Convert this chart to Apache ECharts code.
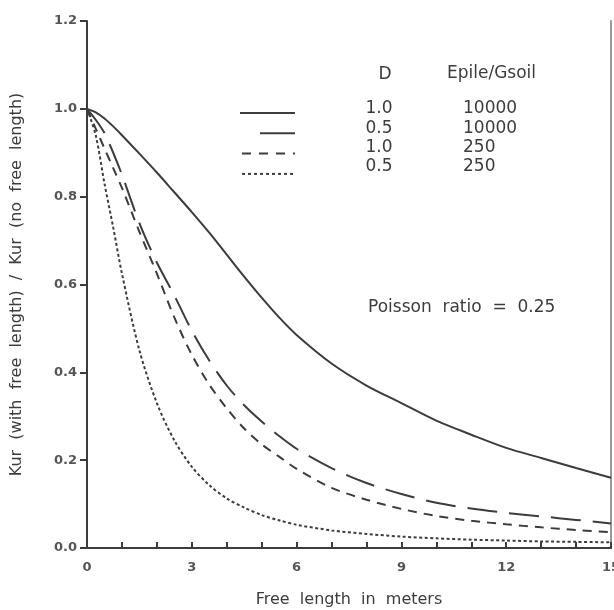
<!DOCTYPE html>
<html>
<head>
<meta charset="utf-8">
<script src="https://cdn.jsdelivr.net/npm/echarts@6/dist/echarts.min.js"></script>
<style>
  html, body { margin: 0; padding: 0; background: #fff; }
  #chart { width: 614px; height: 610px; }
</style>
</head>
<body>
<div id="chart"></div>
<script>
// free length (m)
const freeLength = [0, 0.25, 0.5, 0.75, 1, 1.5, 2, 2.5, 3, 3.5, 4, 4.5, 5, 5.5, 6, 7, 8, 9, 10, 11, 12, 13, 14, 15]

// Kur ratio, one array per curve
const d10_e10000 = [1.0, 0.992, 0.978, 0.96, 0.94, 0.898, 0.855, 0.81, 0.765, 0.718, 0.668, 0.618, 0.57, 0.525, 0.485, 0.42, 0.37, 0.33, 0.29, 0.258, 0.228, 0.205, 0.182, 0.16]
const d05_e10000 = [1.0, 0.975, 0.945, 0.9, 0.85, 0.74, 0.65, 0.575, 0.495, 0.427, 0.37, 0.325, 0.288, 0.255, 0.226, 0.182, 0.148, 0.123, 0.103, 0.09, 0.08, 0.072, 0.064, 0.056]
const d10_e250 = [1.0, 0.955, 0.91, 0.865, 0.82, 0.72, 0.625, 0.525, 0.44, 0.372, 0.318, 0.272, 0.236, 0.208, 0.18, 0.137, 0.11, 0.089, 0.073, 0.062, 0.054, 0.047, 0.041, 0.036]
const d05_e250 = [1.0, 0.94, 0.83, 0.73, 0.625, 0.45, 0.33, 0.245, 0.185, 0.143, 0.113, 0.092, 0.075, 0.063, 0.053, 0.04, 0.032, 0.026, 0.022, 0.019, 0.017, 0.015, 0.014, 0.013]

const legendRows = [
  { d: '1.0', ratio: '10000' },
  { d: '0.5', ratio: '10000' },
  { d: '1.0', ratio: '250' },
  { d: '0.5', ratio: '250' }
]

const ink = '#3c3c3c'
const font = 'DejaVu Sans'

const pairs = ys => freeLength.map((x, i) => [x, ys[i]])

const curve = (name, ys, dash) => ({
  name,
  type: 'line',
  smooth: 0.3,
  showSymbol: false,
  data: pairs(ys),
  lineStyle: { color: ink, width: 2, type: dash },
  z: 3
})

const myChart = echarts.init(document.getElementById('chart'))

// hand-drawn style legend table
const legendLines = [
  { x1: 240, x2: 295, dash: 'solid' },
  { x1: 260, x2: 295, dash: [36, 10] },
  { x1: 242, x2: 295, dash: [9, 8] },
  { x1: 242, x2: 295, dash: [3, 3] }
]
const legendGraphics = []
legendRows.forEach((row, i) => {
  const ly = 113 + i * 20.3
  const ty = 109 + i * 19.2
  const l = legendLines[i]
  legendGraphics.push({
    type: 'line',
    shape: { x1: l.x1, y1: ly, x2: l.x2, y2: ly },
    style: { stroke: ink, lineWidth: 2, lineDash: l.dash === 'solid' ? null : l.dash }
  })
  legendGraphics.push({
    type: 'text', x: 379, y: ty,
    style: { text: row.d, font: '17px ' + font, fill: ink, align: 'center', verticalAlign: 'middle' }
  })
  legendGraphics.push({
    type: 'text', x: 463, y: ty,
    style: { text: row.ratio, font: '17px ' + font, fill: ink, align: 'left', verticalAlign: 'middle' }
  })
})
legendGraphics.push({
  type: 'text', x: 385, y: 75,
  style: { text: 'D', font: '17px ' + font, fill: ink, align: 'center', verticalAlign: 'middle' }
})
legendGraphics.push({
  type: 'text', x: 447, y: 74,
  style: { text: 'Epile/Gsoil', font: '17px ' + font, fill: ink, align: 'left', verticalAlign: 'middle' }
})
legendGraphics.push({
  type: 'text', x: 368, y: 308,
  style: { text: 'Poisson  ratio  =  0.25', font: '17px ' + font, fill: ink, align: 'left', verticalAlign: 'middle' }
})

const option = {
  backgroundColor: '#fff',
  animation: false,
  grid: { left: 87, right: 3, top: 21, bottom: 62, containLabel: false, outerBoundsMode: 'none' },
  xAxis: {
    type: 'value',
    min: 0,
    max: 15,
    interval: 1,
    name: 'Free  length  in  meters',
    nameLocation: 'middle',
    nameGap: 44,
    nameTextStyle: { fontFamily: font, fontSize: 16, color: ink },
    axisLine: { onZero: false, lineStyle: { color: ink, width: 2 } },
    axisTick: { inside: true, length: 6, lineStyle: { color: ink, width: 2 } },
    axisLabel: {
      fontFamily: font, fontSize: 13, fontWeight: 'bold', color: '#555', margin: 13,
      formatter: v => (v % 3 === 0 ? String(v) : '')
    },
    splitLine: { show: false }
  },
  yAxis: [
    {
      type: 'value',
      min: 0,
      max: 1.2,
      interval: 0.2,
      name: 'Kur  (with  free  length)  /  Kur  (no  free  length)',
      nameLocation: 'middle',
      nameGap: 62,
      nameRotate: 90,
      nameTextStyle: { fontFamily: font, fontSize: 16, color: ink },
      axisLine: { show: true, lineStyle: { color: ink, width: 2 } },
      axisTick: { show: true, length: 7, lineStyle: { color: ink, width: 2 } },
      axisLabel: {
        fontFamily: font, fontSize: 13, fontWeight: 'bold', color: '#555', margin: 10,
        formatter: v => v.toFixed(1)
      },
      splitLine: { show: false }
    },
    {
      type: 'value',
      min: 0,
      max: 1.2,
      position: 'right',
      axisLine: { show: true, lineStyle: { color: '#999', width: 2 } },
      axisTick: { show: false },
      axisLabel: { show: false },
      splitLine: { show: false }
    }
  ],
  graphic: legendGraphics,
  series: [
    curve('D 1.0, Epile/Gsoil 10000', d10_e10000, 'solid'),
    curve('D 0.5, Epile/Gsoil 10000', d05_e10000, [30, 12]),
    curve('D 1.0, Epile/Gsoil 250', d10_e250, [9, 7]),
    curve('D 0.5, Epile/Gsoil 250', d05_e250, [3, 2.5])
  ]
}

myChart.setOption(option)
</script>
</body>
</html>
